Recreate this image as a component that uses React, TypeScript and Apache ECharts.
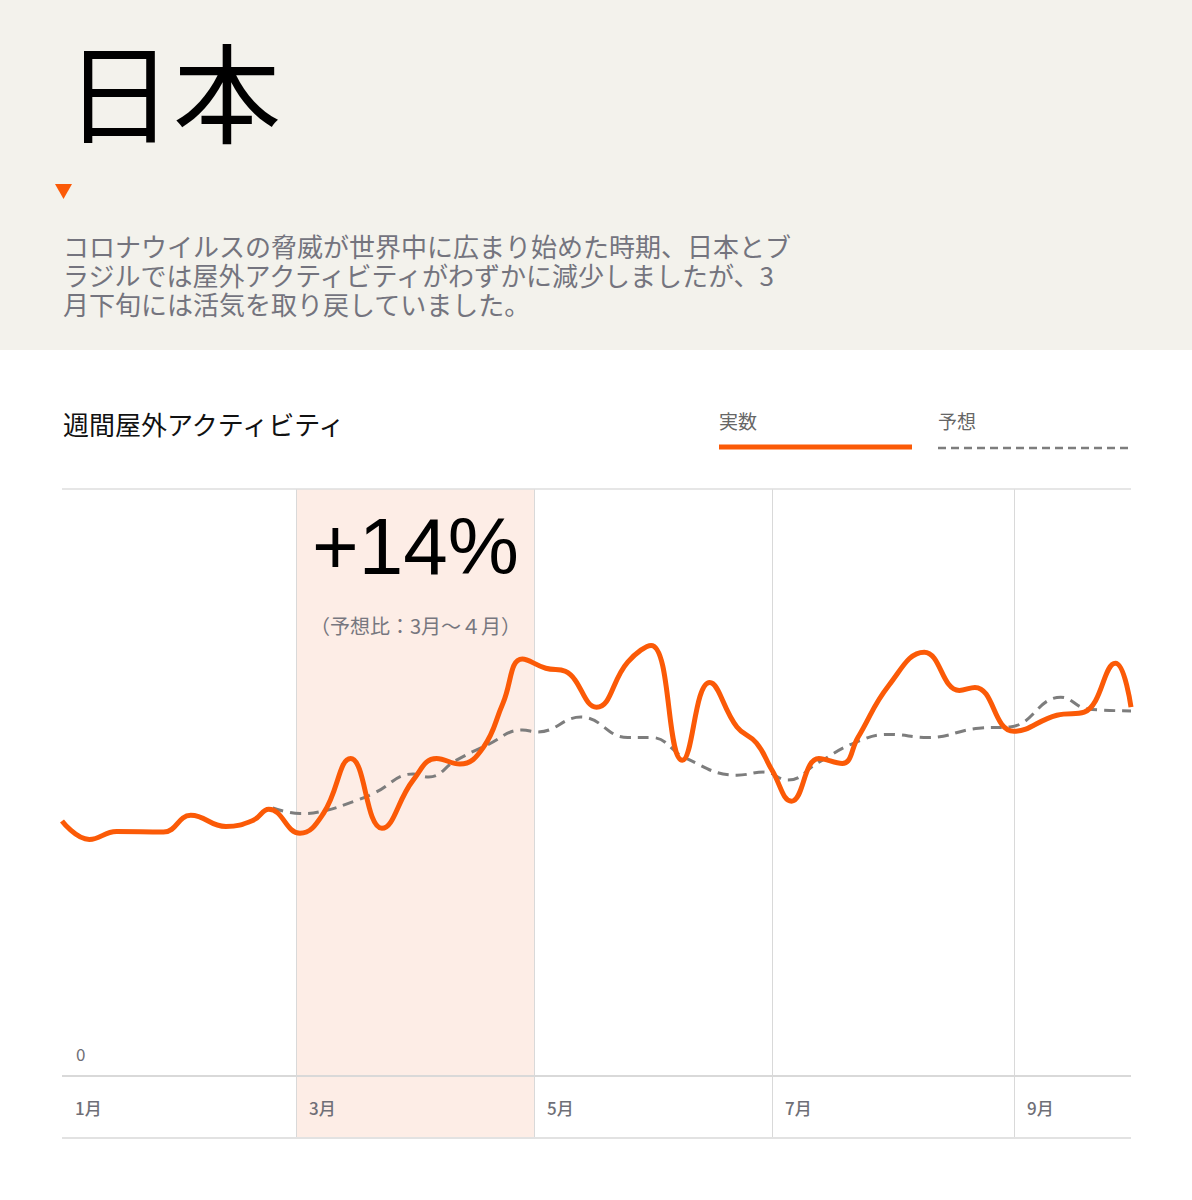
import React, { useEffect, useRef } from 'react';
import * as echarts from 'echarts';

// ------------------------------------------------------------
// Data (x = day of year 2020, y = activity index)
// ------------------------------------------------------------

const monthLabels = ['1月', '3月', '5月', '7月', '9月'];
const monthStartDays = [0, 60, 121, 182, 244];
const highlightRange = [60, 121]; // 3月〜4月

const actualDays = [
  0, 7, 14, 26, 33, 42, 49, 53, 61, 67, 74, 82, 90, 96, 102, 108, 113, 118, 124, 129,
  137, 145, 151, 159, 166, 173, 178, 182, 187, 194, 200, 204, 212, 221, 230, 234, 244,
  255, 262, 270, 274,
];
const actualValues = [
  41.3, 38.3, 39.6, 39.5, 42.2, 40.4, 41.4, 43.2, 39.3, 42.5, 51.4, 40.1, 47.9, 51.4,
  50.5, 53.2, 60.3, 67.5, 66.0, 65.5, 59.7, 67.0, 69.7, 51.1, 63.7, 56.5, 53.9, 49.5,
  44.5, 51.4, 50.6, 54.8, 63.3, 68.6, 62.4, 62.9, 55.8, 58.4, 58.9, 66.8, 59.7,
];

const forecastDays = [
  54, 61, 67, 75, 80, 90, 94, 101, 109, 118, 122, 133, 145, 151, 160, 173, 180, 186,
  194, 203, 212, 222, 235, 243, 256, 263, 274,
];
const forecastValues = [
  43.4, 42.5, 42.9, 44.5, 45.8, 48.9, 48.4, 51.1, 53.6, 56.0, 55.7, 58.1, 54.8, 54.8,
  51.4, 48.7, 49.2, 47.9, 50.8, 53.9, 55.3, 54.8, 56.3, 56.5, 61.3, 59.4, 59.1,
];

const yTickValues = [0];

// ------------------------------------------------------------
// Styles
// ------------------------------------------------------------

const ORANGE = '#fb5a07';
const DASH_GRAY = '#7d7d7d';
const GRID_GRAY = '#d9d9d9';
const LABEL_GRAY = '#6f6f77';
const JP_FONT = "'Noto Sans CJK JP', 'Noto Sans', sans-serif";

const App: React.FC = () => {
  const chartRef = useRef<HTMLDivElement>(null);

  useEffect(() => {
    document.body.style.margin = '0';
    if (!chartRef.current) return;
    const chart = echarts.init(chartRef.current, undefined, { renderer: 'svg' });

    const option: echarts.EChartsOption = {
      animation: false,
      backgroundColor: '#ffffff',
      grid: { left: 62, right: 61, top: 489, bottom: 62 },
      xAxis: {
        type: 'value',
        min: 0,
        max: 274,
        splitLine: { show: false },
        axisTick: { show: false },
        axisLine: { show: false, onZero: false },
        axisLabel: {
          customValues: monthStartDays,
          formatter: (v: number) => {
            const i = monthStartDays.indexOf(v);
            return i >= 0 ? monthLabels[i] : '';
          },
          inside: true,
          align: 'left',
          verticalAlign: 'bottom',
          padding: [0, 0, 0, 13],
          margin: 22,
          color: LABEL_GRAY,
          fontSize: 17,
          fontWeight: 500,
          fontFamily: JP_FONT,
        },
      } as any,
      yAxis: {
        type: 'value',
        min: -10,
        max: 95,
        splitLine: { show: false },
        axisLine: { show: false },
        axisTick: { show: false },
        axisLabel: {
          customValues: yTickValues,
          inside: true,
          margin: 14,
          verticalAlign: 'bottom',
          padding: [0, 0, 14, 0],
          color: LABEL_GRAY,
          fontSize: 17,
          fontFamily: JP_FONT,
        },
      } as any,
      series: [
        {
          name: '予想',
          type: 'line',
          z: 2,
          clip: false,
          smooth: 0.45,
          symbol: 'none',
          silent: true,
          lineStyle: { color: DASH_GRAY, width: 3, type: [11, 7] },
          data: forecastDays.map((d, i) => [d, forecastValues[i]]),
          markArea: {
            silent: true,
            z: 0,
            itemStyle: { color: '#fdede6' },
            data: [[{ xAxis: highlightRange[0] }, { xAxis: highlightRange[1] }]],
          },
          markLine: {
            silent: true,
            z: 1,
            symbol: ['none', 'none'],
            label: { show: false },
            lineStyle: { type: 'solid', color: GRID_GRAY, width: 1 },
            data: [
              ...monthStartDays.slice(1).map((d) => ({ xAxis: d })),
              { yAxis: 95, lineStyle: { type: 'solid', color: '#dedede', width: 1.5 } },
              { yAxis: 0, lineStyle: { type: 'solid', color: GRID_GRAY, width: 2 } },
              { yAxis: -10, lineStyle: { type: 'solid', color: '#e2e2e2', width: 2 } },
            ],
          },
        },
        {
          name: '実数',
          type: 'line',
          z: 3,
          smooth: 0.45,
          symbol: 'none',
          silent: true,
          lineStyle: { color: ORANGE, width: 5 },
          data: actualDays.map((d, i) => [d, actualValues[i]]),
        },
      ],
      graphic: [
        // header panel
        {
          type: 'rect',
          z: -10,
          shape: { x: 0, y: 0, width: 1192, height: 350 },
          style: { fill: '#f3f2ec' },
        },
        {
          type: 'text',
          x: 65,
          y: 88,
          style: {
            text: '日本',
            fontSize: 108,
            fontFamily: JP_FONT,
            fill: '#000000',
            textVerticalAlign: 'middle',
          },
        },
        {
          type: 'polygon',
          shape: { points: [[55, 184], [72, 184], [63.5, 199]] },
          style: { fill: ORANGE },
        },
        {
          type: 'text',
          x: 63,
          y: 274,
          style: {
            text:
              'コロナウイルスの脅威が世界中に広まり始めた時期、日本とブ\n' +
              'ラジルでは屋外アクティビティがわずかに減少しましたが、3\n' +
              '月下旬には活気を取り戻していました。',
            fontSize: 26,
            lineHeight: 29,
            fontFamily: JP_FONT,
            fill: '#74747e',
            textVerticalAlign: 'middle',
          },
        },
        // chart title
        {
          type: 'text',
          x: 63,
          y: 423,
          style: {
            text: '週間屋外アクティビティ',
            fontSize: 26,
            fontFamily: JP_FONT,
            fill: '#111111',
            textVerticalAlign: 'middle',
          },
        },
        // legend
        {
          type: 'text',
          x: 719,
          y: 420,
          style: {
            text: '実数',
            fontSize: 19,
            fontFamily: JP_FONT,
            fill: '#666666',
            textVerticalAlign: 'middle',
          },
        },
        {
          type: 'line',
          shape: { x1: 719, y1: 447, x2: 912, y2: 447 },
          style: { stroke: ORANGE, lineWidth: 5 },
        },
        {
          type: 'text',
          x: 938,
          y: 420,
          style: {
            text: '予想',
            fontSize: 19,
            fontFamily: JP_FONT,
            fill: '#666666',
            textVerticalAlign: 'middle',
          },
        },
        {
          type: 'line',
          shape: { x1: 938, y1: 448, x2: 1131, y2: 448 },
          style: { stroke: DASH_GRAY, lineWidth: 2.5, lineDash: [8, 5] },
        },
        // annotation in the highlighted band
        {
          type: 'text',
          x: 312,
          y: 546,
          z: 10,
          style: {
            text: '+14%',
            fontSize: 80,
            fontFamily: "'Liberation Sans', Arial, sans-serif",
            fill: '#000000',
            textVerticalAlign: 'middle',
          },
        },
        {
          type: 'text',
          x: 310,
          y: 625,
          z: 10,
          style: {
            text: '（予想比：3月～４月）',
            fontSize: 20,
            fontFamily: JP_FONT,
            fill: '#77777f',
            textVerticalAlign: 'middle',
          },
        },
      ],
    };

    chart.setOption(option);
    return () => {
      chart.dispose();
    };
  }, []);

  return <div ref={chartRef} style={{ width: 1192, height: 1200 }} />;
};

export default App;
